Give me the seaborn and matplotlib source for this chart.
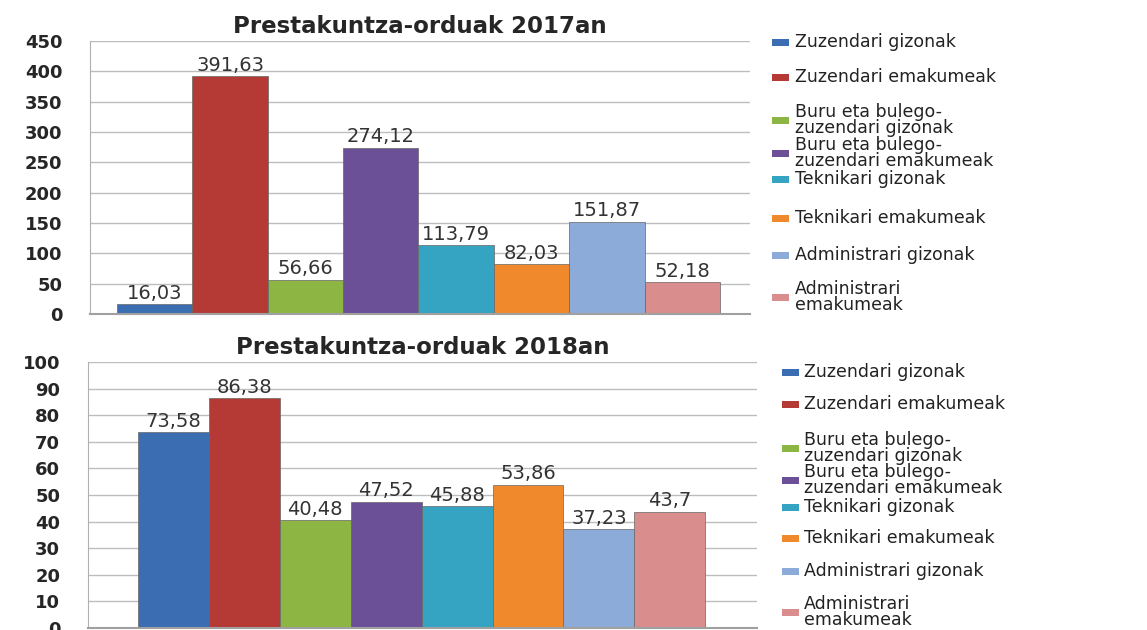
import matplotlib
matplotlib.use("Agg")
import matplotlib.pyplot as plt
from matplotlib.patches import Rectangle
import seaborn as sns
import pandas as pd

categories = ["Zuzendari gizonak", "Zuzendari emakumeak",
              "Buru eta bulego-zuzendari gizonak", "Buru eta bulego-zuzendari emakumeak",
              "Teknikari gizonak", "Teknikari emakumeak",
              "Administrari gizonak", "Administrari emakumeak"]
legend_labels = ["Zuzendari gizonak", "Zuzendari emakumeak",
                 "Buru eta bulego-\nzuzendari gizonak", "Buru eta bulego-\nzuzendari emakumeak",
                 "Teknikari gizonak", "Teknikari emakumeak",
                 "Administrari gizonak", "Administrari\nemakumeak"]
values_2017 = [16.03, 391.63, 56.66, 274.12, 113.79, 82.03, 151.87, 52.18]
values_2018 = [73.58, 86.38, 40.48, 47.52, 45.88, 53.86, 37.23, 43.7]
colors = ["#3b6db3", "#b53a36", "#8db543", "#6b4f97", "#35a3c2", "#f0882c", "#8dabd8", "#d98e8d"]
title_2017 = "Prestakuntza-orduak 2017an"
title_2018 = "Prestakuntza-orduak 2018an"

# legend row positions (pixel layout, from top of figure)
legend_rows_2017 = [42, 77, 120, 153, 179, 218, 255, 297]
legend_rows_2018 = [372, 404, 448, 480, 507, 538, 571, 612]

sns.set_style("white")
plt.rcParams["font.family"] = ["DejaVu Sans"]

W, H = 1147, 630
fig = plt.figure(figsize=(W / 100, H / 100), dpi=100)
ax1 = fig.add_axes([90 / W, 1 - 314 / H, (750 - 90) / W, (314 - 41) / H])
ax2 = fig.add_axes([88 / W, 1 - 628 / H, (757 - 88) / W, (628 - 362) / H])


def draw(ax, vals, ymax, step, xlim, title, rows, sq_x, txt_x, leg_fs, lsp):
    df = pd.DataFrame({"cat": categories, "val": vals})
    sns.barplot(data=df, x="cat", y="val", hue="cat", order=categories, hue_order=categories,
                palette=colors, width=1.0, legend=False, ax=ax, linewidth=0.5,
                edgecolor="#666666", saturation=1)
    ax.set_ylim(0, ymax)
    ax.set_xlim(*xlim)
    ax.set_yticks(range(0, ymax + 1, step))
    ax.yaxis.grid(True, color="#bdbdbd", linewidth=1)
    ax.set_axisbelow(True)
    for s in ["top", "right"]:
        ax.spines[s].set_visible(False)
    ax.spines["left"].set_color("#b0b0b0")
    ax.spines["bottom"].set_color("#a0a0a0")
    ax.spines["bottom"].set_linewidth(1.5)
    ax.set_xticks([])
    ax.set_xlabel("")
    ax.set_ylabel("")
    ax.tick_params(axis="y", length=11, color="#bdbdbd", pad=9, labelsize=13)
    for lab in ax.get_yticklabels():
        lab.set_fontweight("bold")
    for cont, v in zip(ax.containers, vals):
        ax.bar_label(cont, labels=[f"{v:g}".replace(".", ",")], padding=1,
                     fontsize=14, color="#333333")
    ax.set_title(title, fontsize=16.5, fontweight="bold", pad=6)
    for lab, c, y in zip(legend_labels, colors, rows):
        fig.add_artist(Rectangle((sq_x / W, 1 - (y + 3.5) / H), 17 / W, 7 / H,
                                 transform=fig.transFigure, facecolor=c, edgecolor="none"))
        fig.text(txt_x / W, 1 - y / H, lab, fontsize=leg_fs, va="center", ha="left",
                 color="#222222", linespacing=lsp)


draw(ax1, values_2017, 450, 50, (-0.858, 7.898), title_2017, legend_rows_2017, 772, 795, 12.5, 0.8)
draw(ax2, values_2018, 100, 10, (-1.205, 8.23), title_2018, legend_rows_2018, 782, 804, 12.5, 0.88)

fig.savefig("out.png", dpi=100)
